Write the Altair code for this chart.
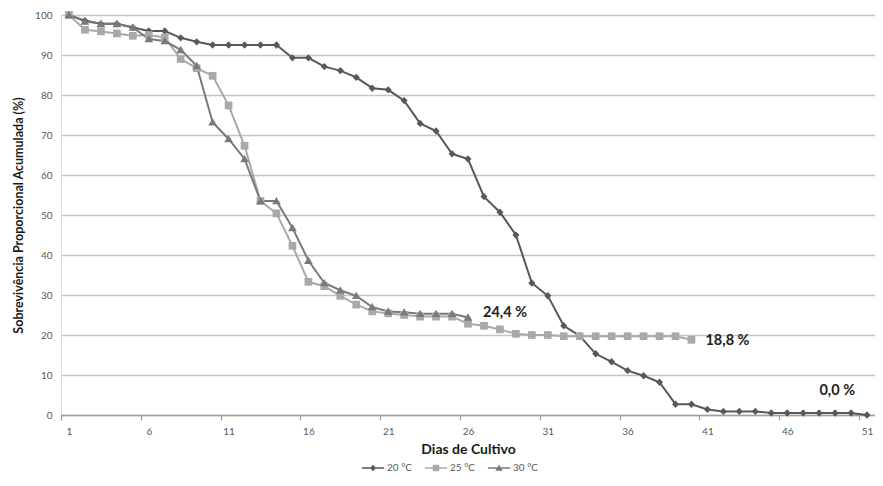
import altair as alt
import pandas as pd

# ---- data ----
days_20 = list(range(1, 52))
surv_20 = [100, 98.6, 97.8, 97.8, 96.9, 96.0, 96.0, 94.3, 93.3, 92.5,
           92.5, 92.5, 92.5, 92.5, 89.3, 89.3, 87.1, 86.1, 84.4, 81.7,
           81.3, 78.6, 72.9, 71.0, 65.3, 64.0, 54.6, 50.7, 45.0, 33.0,
           29.8, 22.3, 19.8, 15.3, 13.3, 11.1, 9.8, 8.2, 2.7, 2.7,
           1.4, 0.9, 0.9, 0.9, 0.5, 0.5, 0.5, 0.5, 0.5, 0.5, 0.0]
days_25 = list(range(1, 41))
surv_25 = [100, 96.3, 95.9, 95.4, 94.8, 95.0, 94.4, 89.0, 86.7, 84.8,
           77.4, 67.3, 53.5, 50.4, 42.3, 33.3, 32.2, 29.8, 27.6, 25.9,
           25.4, 25.0, 24.6, 24.6, 24.6, 22.8, 22.3, 21.4, 20.3, 20.0,
           20.0, 19.7, 19.7, 19.7, 19.7, 19.7, 19.7, 19.7, 19.7, 18.8]
days_30 = list(range(1, 27))
surv_30 = [100, 98.4, 97.8, 97.8, 96.9, 94.0, 93.5, 91.3, 87.3, 73.2,
           69.0, 64.0, 53.5, 53.5, 46.8, 38.6, 33.0, 31.2, 29.8, 27.0,
           25.9, 25.7, 25.3, 25.3, 25.3, 24.4]

series_names = ["20 °C", "25 °C", "30 °C"]
series_colors = ["#585858", "#a9a9a9", "#7a7a7a"]
marker_paths = ["M0,-1.05L1,0L0,1.05L-1,0Z",
                "M-1.1,-1.1L1.1,-1.1L1.1,1.1L-1.1,1.1Z",
                "M0,-1.15L1.25,0.95L-1.25,0.95Z"]
x_label_days = list(range(1, 52, 5))
y_ticks = list(range(0, 101, 10))

end_texts = ["24,4 %", "18,8 %", "0,0 %"]
end_series = ["30 °C", "25 °C", "20 °C"]

# ---- tables ----
rows = []
for name, ds, vs in zip(series_names, [days_20, days_25, days_30], [surv_20, surv_25, surv_30]):
    for d, v in zip(ds, vs):
        rows.append({"day": d, "surv": v, "serie": name})
df = pd.DataFrame(rows)

last = {n: (ds[-1], vs[-1]) for n, ds, vs in zip(series_names, [days_20, days_25, days_30], [surv_20, surv_25, surv_30])}
ann = pd.DataFrame({
    "text": end_texts,
    "day": [last[s][0] for s in end_series],
    "surv": [last[s][1] for s in end_series],
})

FONT = "Lato"
W = 814

x_enc = alt.X("day:Q",
              scale=alt.Scale(domain=[0.5, 51.5], nice=False, zero=False),
              axis=alt.Axis(values=x_label_days, title="Dias de Cultivo", grid=False,
                            tickOffset=-8, labelOffset=8, tickSize=5,
                            domainColor="#a0a0a0", tickColor="#a0a0a0",
                            domainWidth=1.3, tickWidth=1.3,
                            labelFontSize=10, labelColor="#595959", labelPadding=6,
                            labelFont=FONT, titleFont=FONT,
                            titleFontSize=14, titleFontWeight="bold", titleColor="#1a1a1a",
                            titlePadding=6))
y_enc = alt.Y("surv:Q",
              scale=alt.Scale(domain=[0, 100], nice=False),
              axis=alt.Axis(values=y_ticks, title="Sobrevivência Proporcional Acumulada (%)",
                            grid=True, gridColor="#c4c4c4", gridWidth=1.3,
                            domain=False, ticks=False, tickSize=0,
                            labelFontSize=10, labelColor="#595959", labelPadding=9,
                            labelFont=FONT, titleFont=FONT,
                            titleFontSize=12.5, titleFontWeight="bold", titleColor="#1a1a1a",
                            titlePadding=9))

color_scale = alt.Scale(domain=series_names, range=series_colors)

# legend symbol: a short bar (line) with the series marker on it, all filled
LINE_PATH = "M-3.7,-0.28L3.7,-0.28L3.7,0.28L-3.7,0.28Z"
parts = []
for n, p in zip(series_names[:-1], marker_paths[:-1]):
    parts.append(f"datum.value === '{n}' ? '{LINE_PATH}{p}'")
shape_expr = " : ".join(parts) + f" : '{LINE_PATH}{marker_paths[-1]}'"

legend = alt.Legend(title=None, orient="none", direction="horizontal",
                    legendX=307, legendY=448, symbolSize=36,
                    symbolType=alt.ExprRef(expr=shape_expr),
                    symbolFillColor=alt.ExprRef(expr="scale('color', datum.value)"),
                    symbolStrokeWidth=0, symbolOpacity=1,
                    labelOffset=9, columnPadding=12,
                    labelFontSize=10, labelColor="#595959", labelFont=FONT)

color_enc = alt.Color("serie:N", scale=color_scale, legend=legend)

lines = alt.Chart(df).mark_line(strokeWidth=2).encode(x=x_enc, y=y_enc, color=color_enc)

point_layers = []
for name, path in zip(series_names, marker_paths):
    point_layers.append(
        alt.Chart(df).transform_filter(alt.datum.serie == name)
        .mark_point(filled=True, size=49, opacity=1, shape=path)
        .encode(x=x_enc, y=y_enc, color=color_enc)
    )

def ann_layer(txt, align, dx, dy):
    return alt.Chart(ann).transform_filter(alt.datum.text == txt).mark_text(
        align=align, baseline="middle", dx=dx, dy=dy, fontSize=14.5, fontWeight="bold",
        font=FONT, color="#222222").encode(x=x_enc, y=y_enc, text="text:N")

t1 = ann_layer(end_texts[0], "left", 15, -4)
t2 = ann_layer(end_texts[1], "left", 14, 1)
t3 = ann_layer(end_texts[2], "right", -12, -24)

chart = alt.layer(lines, *point_layers, t1, t2, t3).properties(
    width=W, height=400,
    padding={"left": 4, "top": 2, "right": 0, "bottom": 0},
).configure_view(stroke="transparent").configure(font=FONT)

chart.save("out.html", embed_options={"renderer": "svg", "actions": False})
